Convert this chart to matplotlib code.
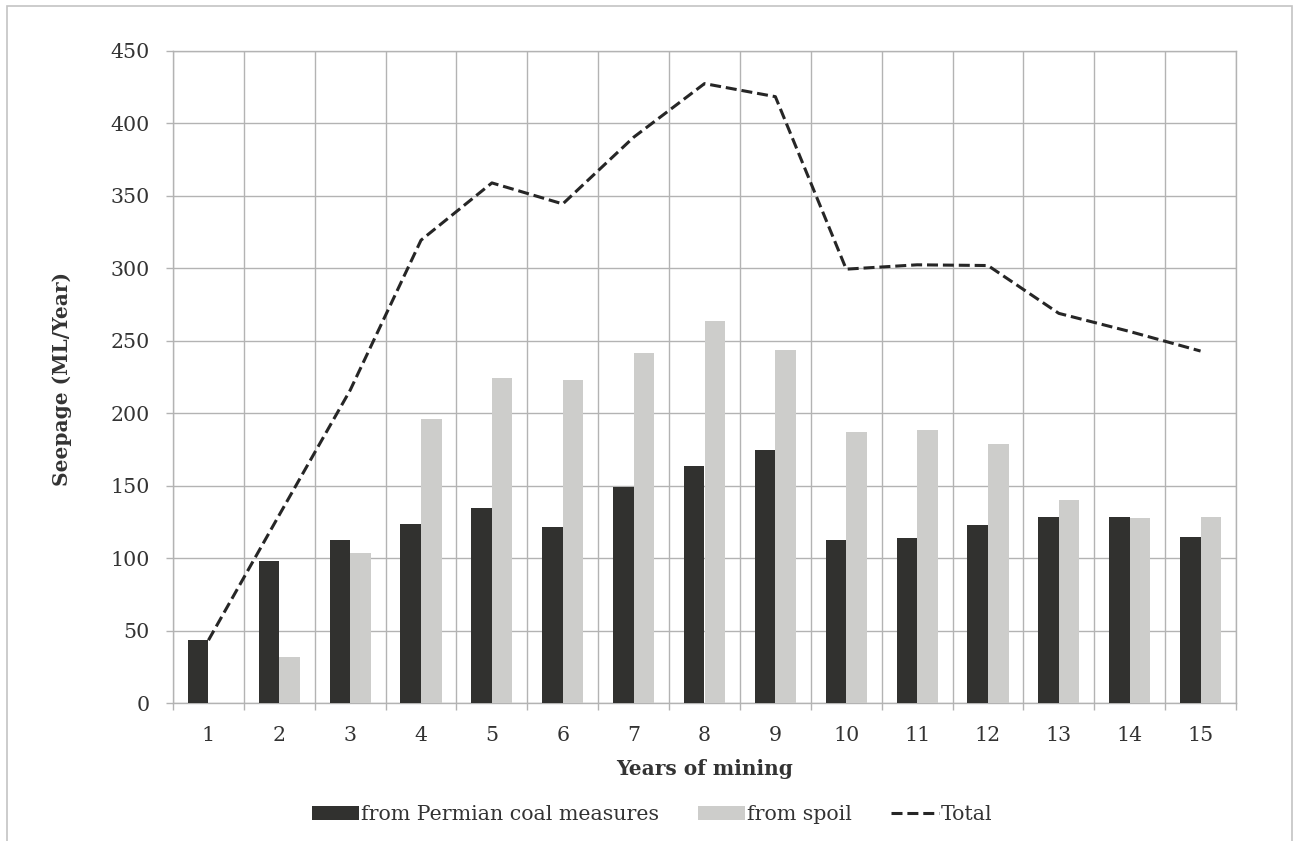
import matplotlib
matplotlib.use("Agg")
import matplotlib.pyplot as plt
from matplotlib.patches import Rectangle
import numpy as np

years = list(range(1, 16))
permian = [43.5, 98, 112.5, 123.5, 134.5, 121.5, 149, 163.5, 175, 112.5, 114, 123, 128.5, 128.5, 114.5]
spoil = [0, 32, 103.5, 196, 224.5, 223, 241.5, 264, 243.5, 187, 188.5, 179, 140.5, 128, 128.5]
total = [p + s for p, s in zip(permian, spoil)]
yticks = list(range(0, 451, 50))

DARK = "#31312f"
LIGHT = "#cdcdcb"
GRID = "#b3b3b3"
TEXT = "#333333"
FONT = "DejaVu Serif"
FS = 14.8

W, H = 1295, 841
fig = plt.figure(figsize=(W / 100, H / 100), dpi=100)
ax = fig.add_axes([173 / W, 1 - 703.3 / H, (1236 - 173) / W, (703.3 - 51) / H])

x = np.array(years, dtype=float)
bw = 0.29
b1 = ax.bar(x - bw / 2, permian, width=bw, color=DARK, zorder=3)
b2 = ax.bar(x + bw / 2, spoil, width=bw, color=LIGHT, zorder=3)
ln, = ax.plot(x, total, color="#262626", lw=2.2, dashes=(3.6, 1.6), zorder=4)

ax.set_xlim(0.5, 15.5)
ax.set_ylim(0, 450)

# category boundaries carry the tick marks and gridlines; labels sit at the centres
ax.set_xticks(np.arange(0.5, 15.6, 1.0))
ax.set_xticklabels([])
ax.set_xticks(x, minor=True)
ax.set_xticklabels([str(v) for v in years], minor=True, fontsize=FS, family=FONT, color=TEXT)
ax.tick_params(axis="x", which="major", length=5, width=1, color=GRID, direction="out")
ax.tick_params(axis="x", which="minor", length=0, pad=16)

ax.set_yticks(yticks)
ax.set_yticklabels([str(v) for v in yticks], fontsize=FS, family=FONT, color=TEXT)
ax.tick_params(axis="y", which="major", length=5, width=1, color=GRID, direction="out", pad=12)

ax.grid(True, which="major", color=GRID, lw=1, zorder=0)
ax.set_axisbelow(True)
for sp in ax.spines.values():
    sp.set_color(GRID)
    sp.set_linewidth(1)

fig.text(62 / W, 1 - 379 / H, "Seepage (ML/Year)", rotation=90, ha="center", va="center",
         fontsize=14.5, fontweight="bold", family=FONT, color=TEXT)
fig.text(705 / W, 1 - 769 / H, "Years of mining", ha="center", va="center",
         fontsize=14.5, fontweight="bold", family=FONT, color=TEXT)

leg = fig.legend([b1, b2, ln], ["from Permian coal measures", "from spoil", "Total"],
                 loc="center", bbox_to_anchor=(652 / W, 1 - 815 / H), ncol=3,
                 frameon=False, prop={"family": FONT, "size": FS}, handlelength=2.3,
                 handleheight=0.67, handletextpad=0.1, columnspacing=1.9)
for t in leg.get_texts():
    t.set_color(TEXT)

# outer chart border
fig.add_artist(Rectangle((7 / W, -0.05), (1292 - 7) / W, 1.05 - 6.3 / H, transform=fig.transFigure,
                         fill=False, edgecolor="#c4c4c4", lw=1.2))

fig.savefig("out.png", dpi=100)
